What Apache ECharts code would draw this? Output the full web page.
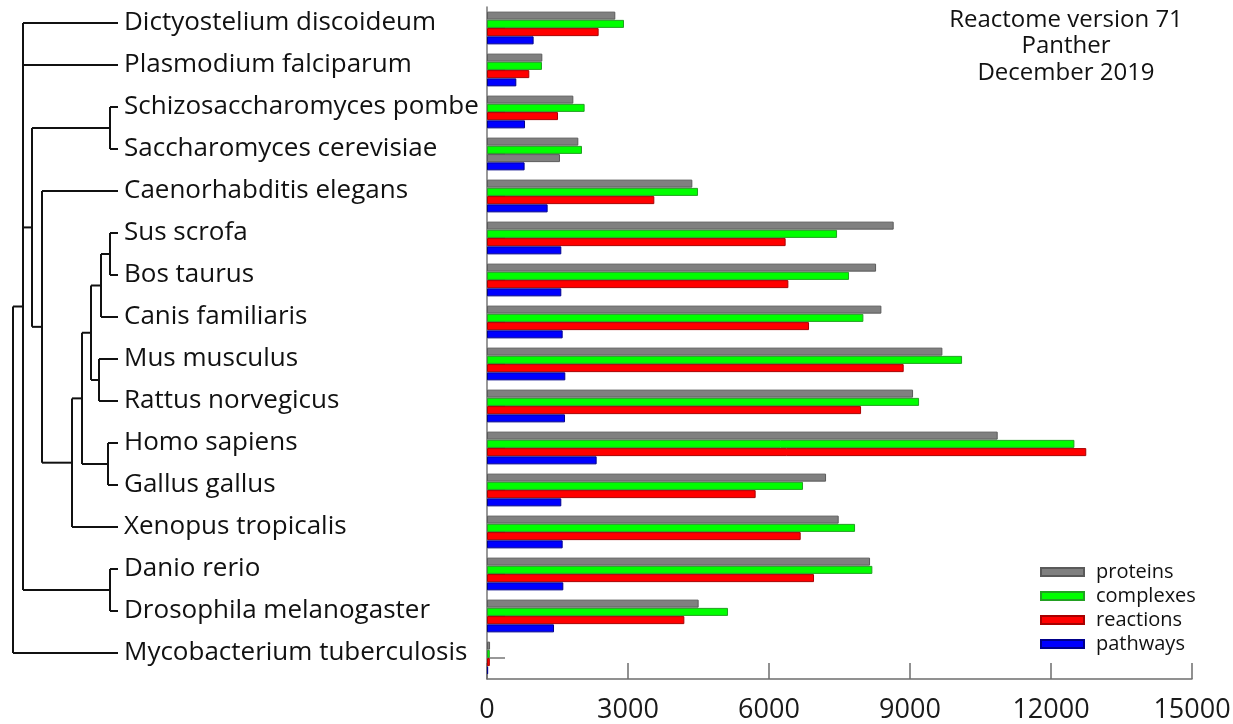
<!DOCTYPE html>
<html><head><meta charset="utf-8">
<script src="https://cdn.jsdelivr.net/npm/echarts@6/dist/echarts.min.js"></script>
<style>html,body{margin:0;padding:0;background:#fff}#c{width:1233px;height:724px}</style>
</head><body><div id="c"></div>
<script>
const species = ['Dictyostelium discoideum','Plasmodium falciparum','Schizosaccharomyces pombe','Saccharomyces cerevisiae','Caenorhabditis elegans','Sus scrofa','Bos taurus','Canis familiaris','Mus musculus','Rattus norvegicus','Homo sapiens','Gallus gallus','Xenopus tropicalis','Danio rerio','Drosophila melanogaster','Mycobacterium tuberculosis'];
const proteins  = [2730,1177,1837,1943,4369,8653,8278,8391,9689,9065,10866,7214,7483,8150,4503,65];
const complexes = [2915,1170,2077,2021,4490,7448,7703,8008,10108,9193,12498,6724,7831,8199,5128,60];
const reactions = [2375,900,1511,1553,3560,6354,6412,6852,8866,7959,12750,5716,6674,6958,4199,60];
const pathways  = [992,624,809,800,1290,1581,1581,1610,1666,1660,2333,1581,1610,1624,1426,25];
const seriesNames = ['proteins','complexes','reactions','pathways'];
const xTickValues = [0,3000,6000,9000,12000,15000];
const titleLines = ['Reactome version 71','Panther','December 2019'];
// cladogram: internal node "age" (distance from the tips, arbitrary units); leaves are species names
const tree = {age:105, children:[
  {age:95, children:['Dictyostelium discoideum','Plasmodium falciparum',
    {age:86, children:[
      {age:8, children:['Schizosaccharomyces pombe','Saccharomyces cerevisiae']},
      {age:76, children:['Caenorhabditis elegans',
        {age:46, children:[
          {age:36, children:[
            {age:27, children:[
              {age:17, children:[{age:8, children:['Sus scrofa','Bos taurus']}, 'Canis familiaris']},
              {age:19, children:['Mus musculus','Rattus norvegicus']}
            ]},
            {age:10, children:['Homo sapiens','Gallus gallus']}
          ]},
          'Xenopus tropicalis'
        ]}
      ]}
    ]},
    {age:8, children:['Danio rerio','Drosophila melanogaster']}
  ]},
  'Mycobacterium tuberculosis'
]};
const treeMaxAge = 118;

const FONT = 'Open Sans';
const fills   = ['#808080','#00ff00','#ff0000','#0000ff'];
const borders = ['#5a5a5a','#22a022','#a80000','#00008a'];
const values = [proteins, complexes, reactions, pathways];
const greyReactionSpecies = 'Saccharomyces cerevisiae';

function renderTree(params, api) {
  const els = [];
  const style = {stroke:'#111', lineWidth:2, fill:null};
  function place(node) {
    if (typeof node === 'string') {
      const p = api.coord([0, species.indexOf(node)]);
      return {x:p[0], y:p[1]};
    }
    const x = api.coord([node.age, 0])[0];
    const kids = node.children.map(place);
    const ys = kids.map(k => k.y);
    const y0 = Math.min.apply(null, ys), y1 = Math.max.apply(null, ys);
    els.push({type:'line', shape:{x1:x, y1:y0, x2:x, y2:y1}, style});
    kids.forEach(k => els.push({type:'line', shape:{x1:x, y1:k.y, x2:k.x, y2:k.y}, style}));
    return {x, y:(y0 + y1) / 2};
  }
  place(tree);
  return {type:'group', children:els};
}

const barSeries = seriesNames.map((name, si) => ({
  name, type:'bar', xAxisIndex:0, yAxisIndex:0,
  barWidth:8, barGap:'3%',
  itemStyle:{color:fills[si], borderColor:borders[si], borderWidth:1},
  data: values[si].map((v, i) => (si === 2 && species[i] === greyReactionSpecies)
    ? {value:v, itemStyle:{color:fills[0], borderColor:borders[0]}} : v)
}));

const chart = echarts.init(document.getElementById('c'));
chart.setOption({
  animation:false,
  backgroundColor:'#fff',
  grid:[
    {left:487, right:41, top:7, bottom:45, outerBoundsMode:'none', containLabel:false},
    {left:0, width:treeMaxAge, top:2, height:672, outerBoundsMode:'none', containLabel:false}
  ],
  xAxis:[
    {gridIndex:0, type:'value', min:xTickValues[0], max:xTickValues[xTickValues.length-1],
     interval:xTickValues[1]-xTickValues[0],
     axisLine:{show:true, lineStyle:{color:'#6e6e6e', width:1.5}},
     axisTick:{show:true, inside:true, length:16, lineStyle:{color:'#6e6e6e', width:1.5}},
     axisLabel:{fontSize:27, color:'#1a1a1a', margin:18, fontFamily:FONT,
       formatter: v => String(v)},
     splitLine:{show:false}},
    {gridIndex:1, type:'value', min:0, max:treeMaxAge, inverse:true, show:false}
  ],
  yAxis:[
    {gridIndex:0, type:'category', data:species, inverse:true,
     axisLine:{show:true, lineStyle:{color:'#777', width:1.5}},
     axisTick:{show:true, inside:true, alignWithLabel:true, length:18, lineStyle:{color:'#777', width:1.5}},
     axisLabel:{show:false}, splitLine:{show:false}},
    {gridIndex:1, type:'category', data:species, inverse:true, position:'right',
     axisLine:{show:false}, axisTick:{show:false}, splitLine:{show:false},
     axisLabel:{fontSize:26, color:'#111', margin:6, fontFamily:FONT}}
  ],
  legend:{orient:'vertical', left:1040, top:562, itemWidth:43, itemHeight:8, itemGap:4,
    icon:'rect', padding:0, data:seriesNames,
    textStyle:{fontSize:20, color:'#111', fontFamily:FONT, padding:[0,0,0,7]}},
  graphic:[{type:'text', x:1066, y:7, silent:true,
    style:{text:titleLines.join('\n'), textAlign:'center', textVerticalAlign:'top',
      font:'24px "Open Sans"', lineHeight:26.4, fill:'#111'}}],
  series: barSeries.concat([{
    type:'custom', xAxisIndex:1, yAxisIndex:1, silent:true, clip:false,
    renderItem:renderTree, data:[[0,0]], z:1
  }])
});
</script>
</body></html>
